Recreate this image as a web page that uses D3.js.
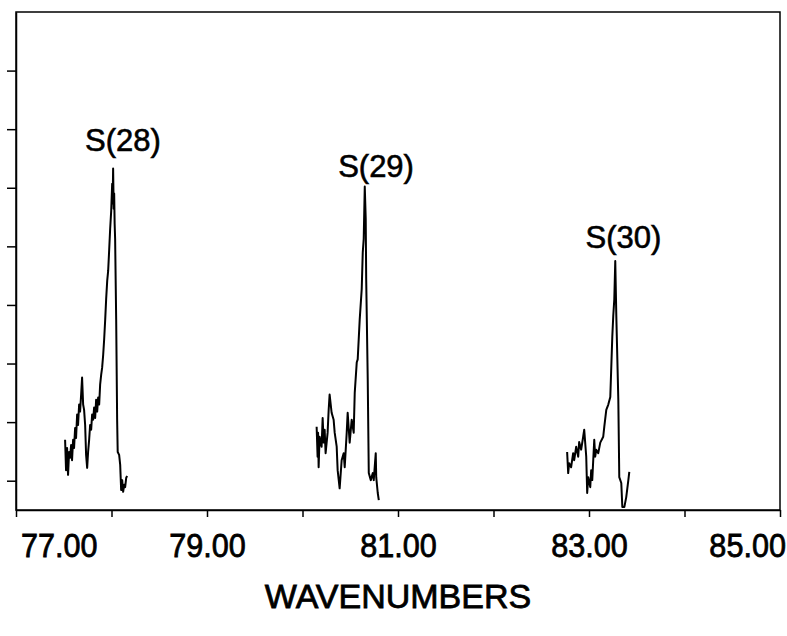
<!DOCTYPE html>
<html>
<head>
<meta charset="utf-8">
<script src="https://cdn.jsdelivr.net/npm/d3@7"></script>
<style>
  body { margin: 0; background: #fff; }
  text { font-family: "Liberation Sans", Arial, sans-serif; fill: #000; }
</style>
</head>
<body>
<svg id="chart" width="787" height="636"></svg>
<script>
// axis values
const xTicks = [77, 78, 79, 80, 81, 82, 83, 84, 85];
const xLabelled = [77, 79, 81, 83, 85];
const yTicks = [1, 2, 3, 4, 5, 6, 7, 8];

// peak labels (wavenumber, intensity of text baseline)
const peakNames = ["S(28)", "S(29)", "S(30)"];
const peakLabelX = [78.12, 80.77, 83.36];
const peakLabelY = [6.62, 6.18, 4.97];

// spectra: [wavenumber, intensity]
const s28 = [
  [77.514, 1.70], [77.524, 1.18], [77.535, 1.56], [77.545, 1.10], [77.556, 1.49],
  [77.566, 1.39], [77.577, 1.61], [77.587, 1.35], [77.598, 1.70], [77.608, 1.56],
  [77.619, 1.90], [77.629, 1.73], [77.640, 2.13], [77.650, 1.95], [77.661, 2.30],
  [77.671, 2.18], [77.682, 2.47], [77.692, 2.76], [77.703, 2.30], [77.713, 2.21],
  [77.724, 1.95], [77.734, 1.44], [77.745, 1.22], [77.755, 1.49], [77.766, 1.70],
  [77.776, 1.95], [77.787, 1.87], [77.797, 2.13], [77.808, 2.04], [77.818, 2.25],
  [77.829, 2.07], [77.839, 2.38], [77.850, 2.18], [77.860, 2.42], [77.871, 2.30],
  [77.881, 2.64], [77.892, 2.81], [77.902, 2.93], [77.913, 3.15], [77.923, 3.41],
  [77.934, 3.75], [77.944, 4.10], [77.955, 4.41], [77.965, 4.58], [77.976, 4.95],
  [77.986, 5.30], [77.997, 5.61], [78.007, 6.07], [78.012, 5.73], [78.017, 6.33],
  [78.023, 5.64], [78.028, 5.90], [78.033, 5.38], [78.038, 5.13], [78.049, 3.75],
  [78.059, 2.04], [78.065, 1.49], [78.080, 1.44], [78.091, 1.27], [78.101, 0.84],
  [78.112, 1.01], [78.122, 0.81], [78.133, 0.93], [78.143, 0.89], [78.154, 1.05],
  [78.164, 1.08]
];

const s29 = [
  [80.148, 1.92], [80.158, 1.41], [80.163, 1.82], [80.169, 1.23], [80.179, 1.75],
  [80.200, 1.58], [80.211, 2.07], [80.221, 1.65], [80.232, 1.87], [80.242, 1.47],
  [80.263, 1.82], [80.274, 2.21], [80.284, 2.47], [80.305, 2.16], [80.326, 2.04],
  [80.337, 1.82], [80.358, 1.58], [80.368, 1.18], [80.389, 0.87], [80.410, 1.35],
  [80.431, 1.47], [80.442, 1.23], [80.463, 1.82], [80.473, 2.16], [80.494, 1.65],
  [80.515, 2.04], [80.536, 1.82], [80.547, 2.50], [80.568, 3.02], [80.578, 3.07],
  [80.599, 3.75], [80.620, 4.27], [80.631, 4.90], [80.641, 5.13], [80.652, 6.02],
  [80.662, 5.47], [80.667, 4.44], [80.683, 2.73], [80.694, 1.13], [80.715, 1.01],
  [80.736, 1.13], [80.746, 1.01], [80.767, 1.47], [80.772, 1.06], [80.788, 0.79],
  [80.799, 0.67]
];

const s30 = [
  [82.771, 1.49], [82.782, 1.13], [82.792, 1.30], [82.813, 1.23], [82.834, 1.47],
  [82.845, 1.35], [82.866, 1.58], [82.887, 1.41], [82.897, 1.66], [82.918, 1.53],
  [82.939, 1.75], [82.950, 1.87], [82.971, 1.41], [82.981, 0.79], [82.992, 1.06],
  [83.013, 0.89], [83.023, 1.18], [83.034, 1.01], [83.055, 1.70], [83.065, 1.41],
  [83.076, 1.53], [83.097, 1.47], [83.118, 1.65], [83.149, 1.75], [83.160, 1.92],
  [83.181, 2.21], [83.202, 2.30], [83.223, 2.43], [83.244, 3.46], [83.254, 3.81],
  [83.265, 4.10], [83.275, 4.75], [83.286, 3.81], [83.307, 2.38], [83.317, 1.06],
  [83.338, 0.96], [83.349, 0.55], [83.370, 0.55], [83.390, 0.72], [83.412, 1.01],
  [83.422, 1.15]
];

const spectra = [s28, s29, s30];

const width = 787, height = 636;
const margin = { top: 12, right: 7, bottom: 126, left: 16 };

const svg = d3.select('#chart');

const x = d3.scaleLinear()
  .domain([77, 85])
  .range([margin.left, width - margin.right]);

const y = d3.scaleLinear()
  .domain([0.5, 9])
  .range([height - margin.bottom, margin.top]);

// frame
svg.append('rect')
  .attr('x', x(77))
  .attr('y', y(9))
  .attr('width', x(85) - x(77))
  .attr('height', y(0.5) - y(9))
  .attr('fill', 'none')
  .attr('stroke', '#000')
  .attr('stroke-width', 1.5);

// bottom axis
const xAxis = svg.append('g')
  .attr('transform', `translate(0,${y(0.5)})`)
  .call(d3.axisBottom(x)
    .tickValues(xTicks)
    .tickSize(7)
    .tickSizeOuter(0)
    .tickFormat(d => xLabelled.includes(d) ? d.toFixed(2) : ''));

xAxis.select('.domain').attr('stroke-width', 1.5);
xAxis.selectAll('.tick line').attr('stroke-width', 1.5);
xAxis.selectAll('.tick text')
  .attr('y', 47)
  .attr('dy', 0)
  .attr('font-size', 34)
  .attr('font-family', '"Liberation Sans", Arial, sans-serif')
  .attr('stroke', '#000')
  .attr('stroke-width', 0.8)
  .attr('transform', 'scale(0.9,1)')
  .attr('text-anchor', d => d === 77 ? 'start' : d === 85 ? 'end' : 'middle')
  .attr('dx', d => d === 77 ? 5 : d === 85 ? 6 : 0);

// left axis, unlabelled ticks
const yAxis = svg.append('g')
  .attr('transform', `translate(${x(77)},0)`)
  .call(d3.axisLeft(y)
    .tickValues(yTicks)
    .tickSize(9)
    .tickSizeOuter(0)
    .tickFormat(''));

yAxis.select('.domain').attr('stroke-width', 1.5);
yAxis.selectAll('.tick line').attr('stroke-width', 1.5);

// axis title
svg.append('text')
  .attr('x', (x(77) + x(85)) / 2)
  .attr('y', 608)
  .attr('text-anchor', 'middle')
  .attr('font-size', 34)
  .attr('stroke', '#000')
  .attr('stroke-width', 0.8)
  .text('WAVENUMBERS');

// spectra
const line = d3.line()
  .x(d => x(d[0]))
  .y(d => y(d[1]));

svg.selectAll('path.spectrum')
  .data(spectra)
  .join('path')
  .attr('class', 'spectrum')
  .attr('d', line)
  .attr('fill', 'none')
  .attr('stroke', '#000')
  .attr('stroke-width', 2)
  .attr('stroke-linejoin', 'round');

// peak labels
svg.selectAll('text.peak')
  .data(peakNames)
  .join('text')
  .attr('class', 'peak')
  .attr('x', (d, i) => x(peakLabelX[i]))
  .attr('y', (d, i) => y(peakLabelY[i]))
  .attr('text-anchor', 'middle')
  .attr('font-size', 31)
  .attr('stroke', '#000')
  .attr('stroke-width', 0.6)
  .text(d => d);
</script>
</body>
</html>
